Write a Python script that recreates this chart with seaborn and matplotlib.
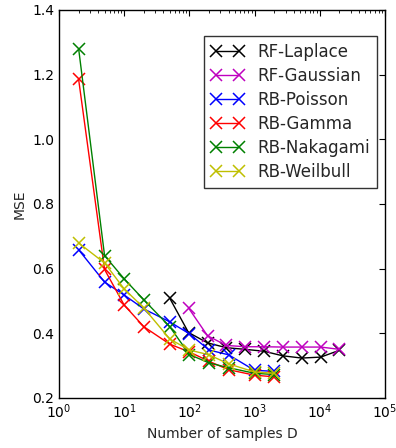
import numpy as np
import pandas as pd
import matplotlib
matplotlib.use("Agg")
import matplotlib.pyplot as plt
import seaborn as sns

# sample counts
d_rf = [50, 97, 190, 370, 720, 1400, 2700, 5300, 10400, 20000]
d_rb = [2, 5, 10, 20, 50, 100, 200, 400, 1000, 2000]

# MSE values
rf_laplace = [0.508, 0.402, 0.370, 0.355, 0.350, 0.344, 0.330, 0.323, 0.326, 0.347]
rf_gaussian = [None, 0.478, 0.392, 0.362, 0.358, 0.358, 0.357, 0.357, 0.357, 0.350]
rb_poisson = [0.658, 0.558, 0.518, 0.475, 0.435, 0.398, 0.348, 0.333, 0.285, 0.282]
rb_gamma = [1.185, 0.597, 0.487, 0.420, 0.366, 0.342, 0.313, 0.287, 0.270, 0.265]
rb_nakagami = [1.280, 0.640, 0.568, 0.503, 0.420, 0.334, 0.308, 0.293, 0.276, 0.272]
rb_weilbull = [0.679, 0.617, 0.537, 0.478, 0.382, 0.348, 0.333, 0.305, 0.280, 0.276]

labels = ['RF-Laplace', 'RF-Gaussian', 'RB-Poisson', 'RB-Gamma', 'RB-Nakagami', 'RB-Weilbull']
colors = ['#000000', '#bf00bf', '#0000ff', '#ff0000', '#008000', '#bfbf00']

series = [
    (d_rf, rf_laplace),
    (d_rf, rf_gaussian),
    (d_rb, rb_poisson),
    (d_rb, rb_gamma),
    (d_rb, rb_nakagami),
    (d_rb, rb_weilbull),
]

sns.set_theme(style="white")
plt.rcParams['font.family'] = ['DejaVu Sans']
plt.rcParams['font.size'] = 10

fig = plt.figure(figsize=(3.96, 4.48), dpi=100)
ax = fig.add_axes([0.149, 0.112, 0.823, 0.866])

for (xs, ys), lab, col in zip(series, labels, colors):
    df = pd.DataFrame({'D': xs, 'MSE': ys}).dropna()
    sns.lineplot(data=df, x='D', y='MSE', ax=ax, color=col, marker='x',
                 markersize=9, markeredgewidth=1.1, markeredgecolor=col,
                 linewidth=1.0, label=lab, sort=False)

ax.set_xscale('log')
ax.set_xlim(1, 1e5)
ax.set_ylim(0.2, 1.4)
ax.set_yticks(np.arange(0.2, 1.41, 0.2))
ax.set_xlabel('Number of samples D', fontsize=10)
ax.set_ylabel('MSE', fontsize=10)

for sp in ax.spines.values():
    sp.set_color('black')
    sp.set_linewidth(1.0)
ax.tick_params(which='both', direction='in', top=True, right=True, colors='black', labelsize=10)
ax.tick_params(which='major', length=4, width=0.8)
ax.tick_params(which='minor', length=2, width=0.6)

handles, labs = ax.get_legend_handles_labels()
leg = ax.legend(handles, labs, loc='upper right', bbox_to_anchor=(0.976, 0.932),
                numpoints=2, frameon=True, fancybox=False, fontsize=12,
                handlelength=2.0, borderpad=0.4, labelspacing=0.36,
                handletextpad=0.8, borderaxespad=0)
leg.get_frame().set_edgecolor('black')
leg.get_frame().set_linewidth(1.0)

fig.savefig('out.png', dpi=100)
